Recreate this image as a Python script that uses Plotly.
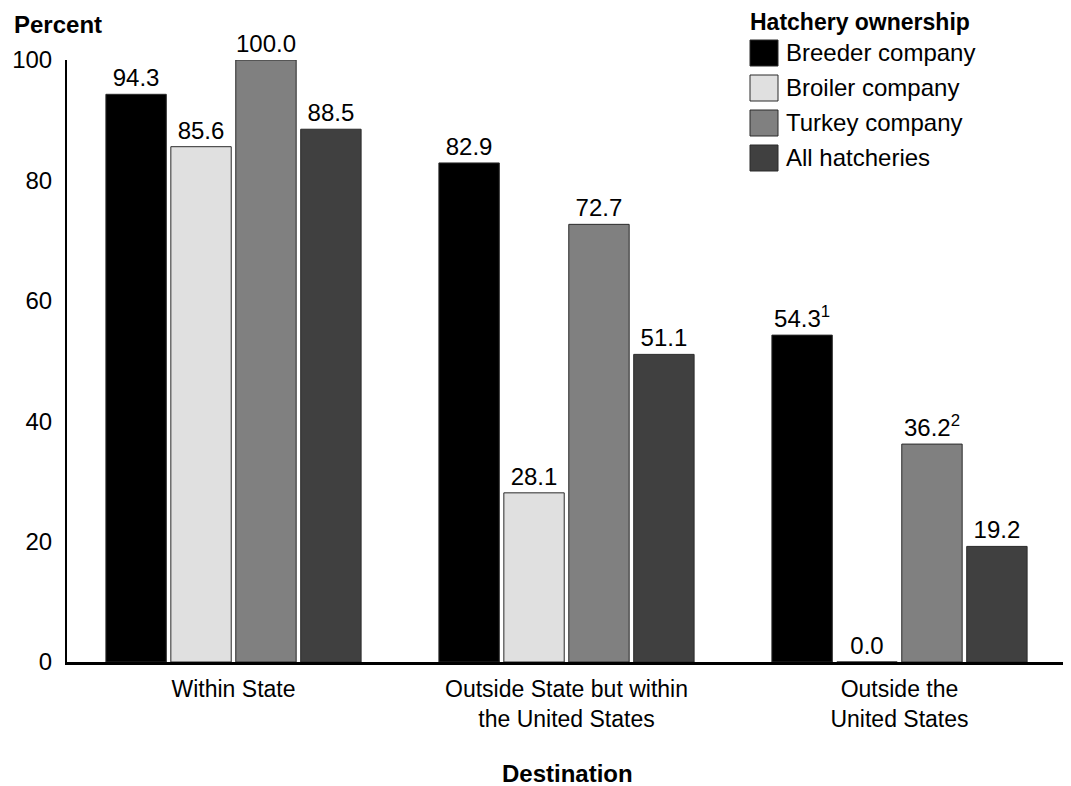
import plotly.graph_objects as go

categories = ["Within State", "Outside State but within<br>the United States", "Outside the<br>United States"]
series_names = ["Breeder company", "Broiler company", "Turkey company", "All hatcheries"]
breeder = [94.3, 82.9, 54.3]
broiler = [85.6, 28.1, 0.0]
turkey = [100.0, 72.7, 36.2]
all_hatch = [88.5, 51.1, 19.2]
footnotes = [["", "", "<sup>1</sup>"], ["", "", ""], ["", "", "<sup>2</sup>"], ["", "", ""]]
colors = ["#000000", "#e0e0e0", "#808080", "#404040"]
yticks = [0, 20, 40, 60, 80, 100]

FONT = "Liberation Sans, Arial, sans-serif"
OFF = 8  # page body margin
W, H = 1071 - OFF, 786 - OFF
L, T = 67 - OFF, 60 - OFF
B = H - (662 - OFF)
R = W - (1066 - OFF)
pw, ph = W - L - R, H - T - B

def px2x(p):
    return (p - OFF - L) / pw

def px2y(p):
    return (H - B - (p - OFF)) / ph

fig = go.Figure()
for name, vals, col, fn in zip(series_names, [breeder, broiler, turkey, all_hatch], colors, footnotes):
    fig.add_trace(go.Bar(
        x=list(range(len(categories))), y=vals, name=name,
        marker=dict(color=col, line=dict(color="#2a2a2a", width=1)),
        text=[f"{v:.1f}{f}" for v, f in zip(vals, fn)],
        textposition="outside", cliponaxis=False,
        textfont=dict(family=FONT, size=24, color="#000000"),
        showlegend=False,
    ))

fig.update_layout(
    width=W, height=H,
    margin=dict(l=L, r=R, t=T, b=B, autoexpand=False),
    paper_bgcolor="white", plot_bgcolor="white",
    barmode="group", bargap=0.22, bargroupgap=0.07,
    font=dict(family=FONT, size=24, color="#000000"),
)
fig.update_xaxes(
    tickmode="array", tickvals=list(range(len(categories))), ticktext=categories,
    range=[-0.5, 2.5], showgrid=False, showline=True, linecolor="#000000", linewidth=3,
    ticks="", tickfont=dict(family=FONT, size=23), ticklabelstandoff=4,
    zeroline=False,
)
fig.update_yaxes(
    range=[0, 100], tickvals=yticks, showgrid=False, showline=True, linecolor="#000000",
    linewidth=2, ticks="", tickfont=dict(family=FONT, size=24), ticklabelstandoff=8,
    zeroline=False,
)

annotations = [
    dict(text="<b>Percent</b>", x=px2x(12), y=px2y(25), xref="paper", yref="paper",
         xanchor="left", yanchor="middle", showarrow=False, font=dict(family=FONT, size=24)),
    dict(text="<b>Destination</b>", x=px2x(567), y=px2y(773), xref="paper", yref="paper",
         xanchor="center", yanchor="middle", showarrow=False, font=dict(family=FONT, size=24)),
    dict(text="<b>Hatchery ownership</b>", x=px2x(748), y=px2y(22), xref="paper", yref="paper",
         xanchor="left", yanchor="middle", showarrow=False, font=dict(family=FONT, size=23)),
]
shapes = []
row_centers = [53, 88, 123, 158]
for name, col, cy in zip(series_names, colors, row_centers):
    shapes.append(dict(type="rect", xref="paper", yref="paper",
                       x0=px2x(750), x1=px2x(778), y0=px2y(cy - 13), y1=px2y(cy + 13),
                       fillcolor=col, line=dict(color="#2a2a2a", width=1)))
    annotations.append(dict(text=name, x=px2x(784), y=px2y(cy), xref="paper", yref="paper",
                            xanchor="left", yanchor="middle", showarrow=False,
                            font=dict(family=FONT, size=24)))
fig.update_layout(annotations=annotations, shapes=shapes)

fig.write_html("out.html")
